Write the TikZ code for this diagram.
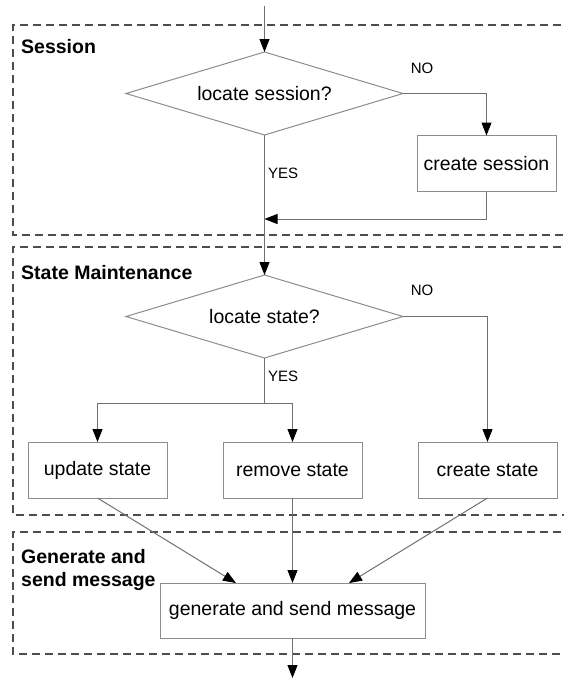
\documentclass[tikz,border=0pt]{standalone}
\usepackage{fontspec}
\setmainfont{Liberation Sans}
\usetikzlibrary{shapes.geometric,arrows.meta,calc}
\definecolor{framegray}{HTML}{4D4D4D}
\definecolor{linegray}{HTML}{707070}
\definecolor{boxgray}{HTML}{8C8C8C}
\begin{document}
\begin{tikzpicture}[x=1pt,y=-1pt,
  every node/.style={font=\fontsize{19.5}{23}\selectfont},
  procbox/.style={draw=boxgray,line width=1pt,minimum width=139pt,minimum height=56pt,inner sep=0pt,outer sep=0pt},
  decision/.style={diamond,draw=boxgray,line width=1pt,minimum width=277pt,minimum height=83pt,aspect=3.3,inner sep=0pt,outer sep=0pt},
  flow/.style={draw=linegray,line width=1pt},
  arr/.style={flow,-{Triangle[length=13pt,width=10pt,color=black]}},
  frame/.style={draw=framegray,line width=2pt,dash pattern=on 8pt off 5pt},
  region/.style={font=\bfseries\fontsize{19.5}{23}\selectfont,anchor=west,align=left,inner sep=0pt},
  answer/.style={font=\fontsize{15}{18}\selectfont,inner sep=0pt}]

\useasboundingbox (0,0) rectangle (564,678);

% dashed swimlane frames (open towards the right)
\draw[frame] (600,25) -- (13,25) -- (13,235) -- (600,235);
\draw[frame] (600,247) -- (13,247) -- (13,515) -- (600,515);
\draw[frame] (600,532) -- (13,532) -- (13,654) -- (600,654);

% lane titles
\node[region] (lsess) at (21,47) {Session};
\node[region] (lsm) at (21,273) {State Maintenance};
\node[region] (lgen) at (21,569.5) {Generate and\\send message};

% flow elements
\node[decision] (d1) at (264.5,93.5) {locate session?};
\node[procbox] (cs) at (486.5,163.5) {create session};
\node[decision] (d2) at (264.5,316.5) {locate state?};
\node[procbox] (us) at (97.5,470) {update state};
\node[procbox] (rs) at (292.5,470) {remove state};
\node[procbox] (crs) at (487.5,470) {create state};
\node[procbox,minimum width=265pt,minimum height=55pt] (gm) at (292.5,610.5) {generate and send message};

% branch labels
\node[answer] (no1) at (422,68) {NO};
\node[answer,anchor=west] (yes1) at (268,173) {YES};
\node[answer] (no2) at (422,290) {NO};
\node[answer,anchor=west] (yes2) at (268,376) {YES};

% free ends and junctions
\coordinate (entry) at (264.5,6);
\coordinate (merge) at (264.5,219);
\coordinate (fork) at (264.5,403);
\coordinate (exit) at (292.5,678);

% connectors
\draw[arr] (entry) -- (d1.north);
\draw[arr] (d1.east) -| (cs.north);
\draw[arr] (cs.south) |- (merge);
\draw[arr] (d1.south) -- (d2.north);
\draw[arr] (d2.east) -| (crs.north);
\draw[flow] (d2.south) -- (fork);
\draw[arr] (fork) -| (us.north);
\draw[arr] (fork) -| (rs.north);
\draw[arr] (us.south) -- ($(gm.north)+(-56.5,0)$);
\draw[arr] (rs.south) -- (gm.north);
\draw[arr] (crs.south) -- ($(gm.north)+(56.5,0)$);
\draw[arr] (gm.south) -- (exit);
\end{tikzpicture}
\end{document}
